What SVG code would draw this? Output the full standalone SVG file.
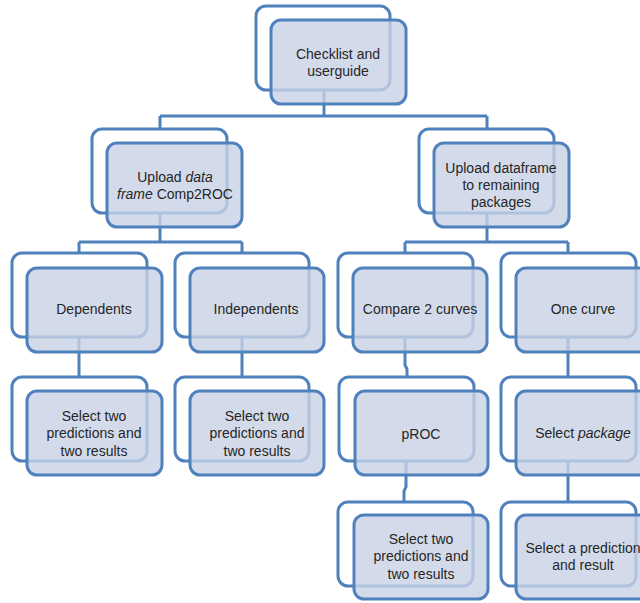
<svg xmlns="http://www.w3.org/2000/svg" width="640" height="603" viewBox="0 0 640 603">
<style>
.bk{fill:#ffffff;stroke:#4f81bd;stroke-width:3}
.fr{fill:#c8d2e6;fill-opacity:0.8;stroke:#4f81bd;stroke-width:3}
.cn{fill:none;stroke:#4f81bd;stroke-width:3}
text{font-family:"Liberation Sans",Arial,sans-serif;font-size:14px;fill:#262626;text-anchor:middle}
.i{font-style:italic}
</style>
<rect width="640" height="603" fill="#ffffff"/>
<g id="connectors">
<path class="cn" d="M324,90 V116 M160,116 H487 M160,116 V129 M487,116 V129"/>
<path class="cn" d="M160,213 V242 M79,242 H242 M79,242 V253 M242,242 V253"/>
<path class="cn" d="M487,213 V242 M405,242 H568 M405,242 V253 M568,242 V253"/>
<path class="cn" d="M79,337 V377 M242,337 V377 M405,337 V365 L407,369 V377 M568,337 V377"/>
<path class="cn" d="M406,461 V487 L404,491 V502 M568,461 V502"/>
</g>
<g id="n-checklist">
<rect class="bk" x="256" y="6" width="134" height="84" rx="10"/>
<rect class="fr" x="271" y="20" width="135" height="84" rx="10"/>
<text x="338" y="59">Checklist and</text>
<text x="338" y="76">userguide</text>
</g>
<g id="n-upload-comp2roc">
<rect class="bk" x="92" y="129" width="135" height="84" rx="10"/>
<rect class="fr" x="107" y="143" width="135" height="84" rx="10"/>
<text x="175" y="182">Upload <tspan class="i">data</tspan></text>
<text x="175" y="199"><tspan class="i">frame</tspan> Comp2ROC</text>
</g>
<g id="n-upload-remaining">
<rect class="bk" x="419" y="129" width="135" height="84" rx="10"/>
<rect class="fr" x="434" y="143" width="135" height="84" rx="10"/>
<text x="501" y="173">Upload dataframe</text>
<text x="501" y="190">to remaining</text>
<text x="501" y="207">packages</text>
</g>
<g id="n-dependents">
<rect class="bk" x="12" y="253" width="135" height="84" rx="10"/>
<rect class="fr" x="27" y="268" width="135" height="84" rx="10"/>
<text x="94" y="314">Dependents</text>
</g>
<g id="n-independents">
<rect class="bk" x="175" y="253" width="134" height="84" rx="10"/>
<rect class="fr" x="190" y="268" width="134" height="84" rx="10"/>
<text x="256" y="314">Independents</text>
</g>
<g id="n-compare">
<rect class="bk" x="338" y="253" width="135" height="84" rx="10"/>
<rect class="fr" x="353" y="268" width="134" height="84" rx="10"/>
<text x="420" y="314">Compare 2 curves</text>
</g>
<g id="n-onecurve">
<rect class="bk" x="501" y="253" width="135" height="84" rx="10"/>
<rect class="fr" x="516" y="268" width="135" height="84" rx="10"/>
<text x="583" y="314">One curve</text>
</g>
<g id="n-dep-select">
<rect class="bk" x="12" y="377" width="135" height="84" rx="10"/>
<rect class="fr" x="27" y="391" width="135" height="84" rx="10"/>
<text x="94" y="421">Select two</text>
<text x="94" y="438">predictions and</text>
<text x="94" y="456">two results</text>
</g>
<g id="n-ind-select">
<rect class="bk" x="175" y="377" width="134" height="84" rx="10"/>
<rect class="fr" x="190" y="391" width="134" height="84" rx="10"/>
<text x="257" y="421">Select two</text>
<text x="257" y="438">predictions and</text>
<text x="257" y="456">two results</text>
</g>
<g id="n-proc">
<rect class="bk" x="339" y="377" width="135" height="84" rx="10"/>
<rect class="fr" x="355" y="391" width="133" height="84" rx="10"/>
<text x="421" y="439">pROC</text>
</g>
<g id="n-select-package">
<rect class="bk" x="501" y="377" width="135" height="84" rx="10"/>
<rect class="fr" x="516" y="391" width="135" height="84" rx="10"/>
<text x="583" y="438">Select <tspan class="i">package</tspan></text>
</g>
<g id="n-proc-select">
<rect class="bk" x="338" y="502" width="135" height="84" rx="10"/>
<rect class="fr" x="354" y="515" width="134" height="84" rx="10"/>
<text x="421" y="544">Select two</text>
<text x="421" y="561">predictions and</text>
<text x="421" y="579">two results</text>
</g>
<g id="n-one-select">
<rect class="bk" x="501" y="502" width="135" height="84" rx="10"/>
<rect class="fr" x="516" y="515" width="135" height="84" rx="10"/>
<text x="583" y="553">Select a prediction</text>
<text x="583" y="570">and result</text>
</g>
</svg>
